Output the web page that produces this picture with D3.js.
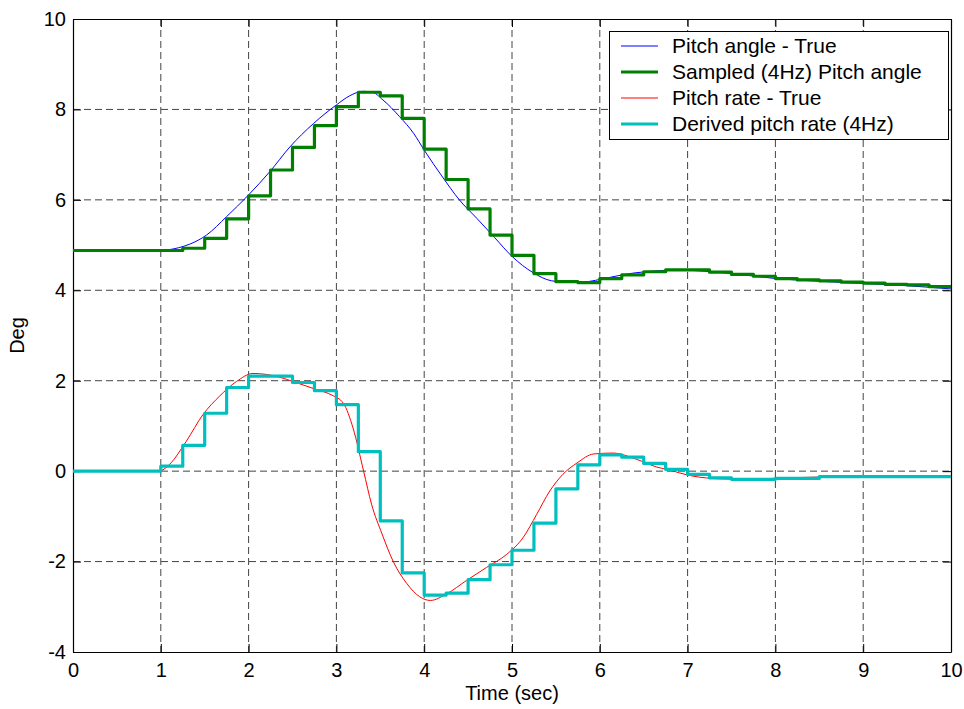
<!DOCTYPE html>
<meta charset="utf-8">
<style>
body { margin: 0; background: #fff; }
text { font-family: Arial, "Liberation Sans", sans-serif; fill: #000; }
.grid line { stroke: #444; stroke-width: 1; stroke-dasharray: 7,4; }
</style>
<svg width="964" height="709"></svg>
<script src="https://d3js.org/d3.v7.min.js"></script>
<script>

// continuous ("true") signals
var trueTime  = [0, 0.5, 1.0, 1.1, 1.2, 1.33, 1.52, 1.75, 2.0, 2.24, 2.47, 2.74, 3.0, 3.15, 3.3, 3.4, 3.53, 3.72, 3.88, 4.0, 4.2, 4.4, 4.6, 4.8, 5.0, 5.24, 5.45, 5.62, 5.8, 5.95, 6.15, 6.38, 6.65, 6.9, 7.2, 7.5, 8.0, 8.5, 9.0, 9.5, 10];
var trueAngle = [4.88, 4.88, 4.88, 4.90, 4.94, 5.02, 5.22, 5.63, 6.11, 6.62, 7.17, 7.69, 8.10, 8.30, 8.40, 8.39, 8.21, 7.84, 7.47, 7.10, 6.53, 6.00, 5.59, 5.17, 4.75, 4.39, 4.21, 4.18, 4.18, 4.22, 4.30, 4.38, 4.43, 4.45, 4.42, 4.37, 4.26, 4.20, 4.15, 4.10, 4.03];

var rateTime = [0, 0.95, 1.0, 1.1, 1.29, 1.48, 1.67, 1.86, 2.05, 2.2, 2.35, 2.51, 2.78, 2.95, 3.08, 3.19, 3.31, 3.4, 3.52, 3.65, 3.8, 3.95, 4.07, 4.26, 4.48, 4.71, 4.94, 5.13, 5.28, 5.43, 5.58, 5.74, 5.93, 6.15, 6.42, 6.65, 6.76, 7.06, 7.37, 7.67, 7.98, 8.5, 9.0, 10];
var trueRate = [0, 0, 0.01, 0.15, 0.66, 1.25, 1.66, 1.98, 2.16, 2.14, 2.08, 1.98, 1.80, 1.68, 1.50, 0.95, 0.0, -0.73, -1.39, -2.01, -2.48, -2.78, -2.86, -2.71, -2.42, -2.13, -1.84, -1.46, -0.96, -0.44, -0.07, 0.18, 0.38, 0.40, 0.26, 0.09, 0.04, -0.11, -0.17, -0.18, -0.16, -0.13, -0.12, -0.12];

// 4 Hz samples (held until the next sample)
var sampleTime = [0, 0.25, 0.5, 0.75, 1.0, 1.25, 1.5, 1.75, 2.0, 2.25, 2.5, 2.75, 3.0, 3.25, 3.5, 3.75, 4.0, 4.25, 4.5, 4.75, 5.0, 5.25, 5.5, 5.75, 6.0, 6.25, 6.5, 6.75, 7.0, 7.25, 7.5, 7.75, 8.0, 8.25, 8.5, 8.75, 9.0, 9.25, 9.5, 9.75, 10];
var sampledAngle = [4.88, 4.88, 4.88, 4.88, 4.88, 4.93, 5.15, 5.58, 6.09, 6.66, 7.16, 7.64, 8.06, 8.38, 8.30, 7.80, 7.12, 6.45, 5.80, 5.22, 4.77, 4.37, 4.19, 4.17, 4.26, 4.34, 4.41, 4.45, 4.45, 4.40, 4.35, 4.31, 4.26, 4.23, 4.21, 4.18, 4.16, 4.13, 4.12, 4.08, 4.06];
var derivedRate = [0, 0, 0, 0, 0.11, 0.57, 1.28, 1.85, 2.10, 2.10, 1.96, 1.78, 1.47, 0.43, -1.10, -2.25, -2.74, -2.70, -2.40, -2.07, -1.75, -1.15, -0.39, 0.14, 0.36, 0.31, 0.17, 0.04, -0.07, -0.15, -0.18, -0.18, -0.16, -0.16, -0.12, -0.12, -0.12, -0.12, -0.12, -0.12, -0.12];

var xTicks = [0, 1, 2, 3, 4, 5, 6, 7, 8, 9, 10];
var yTicks = [-4, -2, 0, 2, 4, 6, 8, 10];

var legendNames = ["Pitch angle - True", "Sampled (4Hz) Pitch angle", "Pitch rate - True", "Derived pitch rate (4Hz)"];

var svg = d3.select("svg"),
    x0 = 73, x1 = 951, y0 = 19, y1 = 652;

var x = d3.scaleLinear().domain([0, 10]).range([x0, x1]);
var y = d3.scaleLinear().domain([-4, 10]).range([y1, y0]);

svg.append("defs").append("clipPath").attr("id", "plot")
  .append("rect")
    .attr("x", x0).attr("y", y0)
    .attr("width", x1 - x0).attr("height", y1 - y0);

// dashed grid
var grid = svg.append("g").attr("class", "grid");
grid.selectAll("line.v")
  .data(xTicks.slice(1, -1))
  .enter().append("line")
    .attr("x1", function(d) { return x(d); })
    .attr("x2", function(d) { return x(d); })
    .attr("y1", y0).attr("y2", y1);
grid.selectAll("line.h")
  .data(yTicks.slice(1, -1))
  .enter().append("line")
    .attr("y1", function(d) { return y(d); })
    .attr("y2", function(d) { return y(d); })
    .attr("x1", x0).attr("x2", x1);

// axes with inward ticks on all four sides; plain hyphen for negatives
var tick = 8,
    plain = function(d) { return String(d); };
svg.append("g")
    .attr("transform", "translate(0," + y1 + ")")
    .call(d3.axisBottom(x).tickValues(xTicks).tickFormat(plain).tickSizeInner(-tick).tickSizeOuter(0).tickPadding(11))
    .call(styleAxis);
svg.append("g")
    .attr("transform", "translate(0," + y0 + ")")
    .call(d3.axisTop(x).tickValues(xTicks).tickSizeInner(-tick).tickSizeOuter(0).tickFormat(""))
    .call(styleAxis);
svg.append("g")
    .attr("transform", "translate(" + x0 + ",0)")
    .call(d3.axisLeft(y).tickValues(yTicks).tickFormat(plain).tickSizeInner(-tick).tickSizeOuter(0).tickPadding(7))
    .call(styleAxis);
svg.append("g")
    .attr("transform", "translate(" + x1 + ",0)")
    .call(d3.axisRight(y).tickValues(yTicks).tickSizeInner(-tick).tickSizeOuter(0).tickFormat(""))
    .call(styleAxis);

function styleAxis(g) {
  g.select(".domain").attr("stroke", "#000").attr("stroke-width", 1.2);
  g.selectAll(".tick line").attr("stroke", "#000");
  g.selectAll(".tick text").attr("font-size", 20).attr("fill", "#000")
    .attr("font-family", "Arial, 'Liberation Sans', sans-serif");
}

// series
var series = [
  { t: trueTime,   v: trueAngle,    color: "#0000ff", width: 1,   curve: d3.curveMonotoneX },
  { t: sampleTime, v: sampledAngle, color: "#008000", width: 3.2, curve: d3.curveStepAfter },
  { t: rateTime,   v: trueRate,     color: "#ff0000", width: 1,   curve: d3.curveMonotoneX },
  { t: sampleTime, v: derivedRate,  color: "#00bfbf", width: 3.2, curve: d3.curveStepAfter }
];

var plot = svg.append("g").attr("clip-path", "url(#plot)");
series.forEach(function(s) {
  var line = d3.line()
      .x(function(d, i) { return x(s.t[i]); })
      .y(function(d) { return y(d); })
      .curve(s.curve);
  plot.append("path")
      .attr("d", line(s.v))
      .attr("fill", "none")
      .attr("stroke", s.color)
      .attr("stroke-width", s.width)
      .attr("stroke-linejoin", "round");
});

// legend
var legend = svg.append("g");
legend.append("rect")
    .attr("x", 609.5).attr("y", 31.5)
    .attr("width", 339).attr("height", 108)
    .attr("fill", "#fff").attr("stroke", "#000").attr("stroke-width", 1);
legendNames.forEach(function(name, i) {
  var ly = 46 + i * 26;
  legend.append("line")
      .attr("x1", 621).attr("x2", 658)
      .attr("y1", ly).attr("y2", ly)
      .attr("stroke", series[i].color)
      .attr("stroke-width", series[i].width);
  legend.append("text")
      .attr("x", 672).attr("y", ly)
      .attr("dy", "0.35em")
      .attr("font-size", 21)
      .text(name);
});

// axis titles
svg.append("text")
    .attr("x", (x0 + x1) / 2).attr("y", 700)
    .attr("text-anchor", "middle")
    .attr("font-size", 20)
    .text("Time (sec)");
svg.append("text")
    .attr("transform", "translate(24," + (y0 + y1) / 2 + ") rotate(-90)")
    .attr("text-anchor", "middle")
    .attr("font-size", 20)
    .text("Deg");

</script>
